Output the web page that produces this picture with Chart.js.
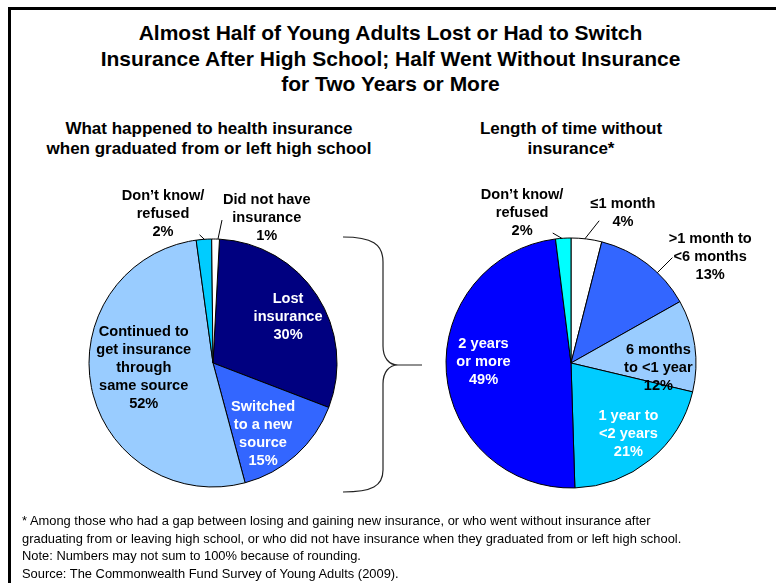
<!DOCTYPE html>
<html>
<head>
<meta charset="utf-8">
<script src="https://cdn.jsdelivr.net/npm/chart.js@4.4.1/dist/chart.umd.min.js"></script>
<style>
  body { margin: 0; background: #fff; font-family: "Liberation Sans", Arial, sans-serif; }
  #page { position: relative; width: 776px; height: 583px; overflow: hidden; }
  .frame { position: absolute; left: 8px; top: 7px; width: 780px; height: 600px;
           border-top: 3px solid #000; border-left: 3px solid #000; }
  .txt { position: absolute; text-align: center; color: #000; font-weight: bold; white-space: nowrap; }
  #title { left: 0; width: 781px; top: 20px; font-size: 21px; line-height: 25.5px; }
  #subLeft { left: 9px; width: 400px; top: 119px; font-size: 17px; line-height: 20px; }
  #subRight { left: 371px; width: 400px; top: 119px; font-size: 17px; line-height: 20px; }
  #notes { position: absolute; left: 22px; top: 512px; font-size: 12.9px; line-height: 17.5px; color: #000; white-space: nowrap; }
  canvas { position: absolute; }
  #leftPie { left: 20px; top: 180px; }
  #rightPie { left: 400px; top: 180px; }
  svg { position: absolute; left: 0; top: 0; }
</style>
</head>
<body>
<div id="page">
  <div class="frame"></div>
  <div id="title" class="txt">Almost Half of Young Adults Lost or Had to Switch<br>Insurance After High School; Half Went Without Insurance<br>for Two Years or More</div>
  <div id="subLeft" class="txt">What happened to health insurance<br>when graduated from or left high school</div>
  <div id="subRight" class="txt">Length of time without<br>insurance*</div>
  <canvas id="leftPie" width="360" height="320"></canvas>
  <canvas id="rightPie" width="376" height="320"></canvas>
  <svg width="776" height="583">
    <path d="M343,237 C372,237 383,244 383,262 L383,346 C383,358 389,365 398,365 L422,365 M398,365 C389,365 383,372 383,384 L383,470 C383,486 372,492 343,492"
          fill="none" stroke="#222" stroke-width="1.2"/>
  </svg>
  <div id="notes">* Among those who had a gap between losing and gaining new insurance, or who went without insurance after<br>graduating from or leaving high school, or who did not have insurance when they graduated from or left high school.<br>Note: Numbers may not sum to 100% because of rounding.<br>Source: The Commonwealth Fund Survey of Young Adults (2009).</div>
</div>
<script>
// left pie: what happened to insurance
const leftLabels = [['Lost', 'insurance'], ['Switched', 'to a new', 'source'], ['Continued to', 'get insurance', 'through', 'same source'], ['Don\u2019t know/', 'refused'], ['Did not have', 'insurance']];
const leftValues = [30, 15, 52, 2, 1];

// right pie: length of time without insurance
const rightLabels = [['\u22641 month'], ['>1 month to', '<6 months'], ['6 months', 'to <1 year'], ['1 year to', '<2 years'], ['2 years', 'or more'], ['Don\u2019t know/', 'refused']];
const rightValues = [4, 13, 12, 21, 49, 2];

const leftColors = ['#000080', '#3366FF', '#99CCFF', '#00CCFF', '#FFFFFF'];
const rightColors = ['#FFFFFF', '#3366FF', '#99CCFF', '#00CCFF', '#0000FF', '#00FFFF'];

// where each label sits: polar (radius as fraction of pie radius, angle in degrees from top)
// leader: [start angle on rim, end angle, end radius]
const leftPlace = [
  { r: 0.71, a: 58.5, color: '#fff' },
  { r: 0.70, a: 144.8, color: '#fff' },
  { r: 0.56, a: 265.9, color: '#000' },
  { r: 1.27, a: 341.5, color: '#000', leader: [356, 354, 1.04] },
  { r: 1.25, a: 20.3, color: '#000', leader: [2.3, 3.6, 1.155] }
];
const rightPlace = [
  { r: 1.27, a: 19.1, color: '#000', leader: [6.4, 11.2, 1.16] },
  { r: 1.40, a: 52.7, color: '#000', leader: [43.7, 43.9, 1.17] },
  { r: 0.70, a: 93, color: '#000' },
  { r: 0.73, a: 141, color: '#fff' },
  { r: 0.70, a: 271, color: '#fff' },
  { r: 1.26, a: 341.9, color: '#000', leader: [355.8, 352, 1.05] }
];

const sliceLabels = {
  id: 'sliceLabels',
  afterDraw(chart, args, opts) {
    const ctx = chart.ctx;
    const meta = chart.getDatasetMeta(0);
    const values = chart.data.datasets[0].data;
    const arc0 = meta.data[0];
    const cx = arc0.x, cy = arc0.y, R = arc0.outerRadius;
    const pt = (r, deg) => {
      const t = deg * Math.PI / 180;
      return [cx + r * R * Math.sin(t), cy - r * R * Math.cos(t)];
    };
    ctx.save();
    ctx.font = 'bold 14.6px "Liberation Sans", Arial, sans-serif';
    ctx.textAlign = 'center';
    ctx.textBaseline = 'middle';
    opts.place.forEach((p, i) => {
      if (p.leader) {
        const a = pt(1, p.leader[0]);
        const b = pt(p.leader[2], p.leader[1]);
        ctx.strokeStyle = '#000';
        ctx.lineWidth = 1;
        ctx.beginPath();
        ctx.moveTo(a[0], a[1]);
        ctx.lineTo(b[0], b[1]);
        ctx.stroke();
      }
      const lines = opts.labels[i].concat([values[i] + '%']);
      const [x, y] = pt(p.r, p.a);
      const lh = 18;
      const y0 = y - (lines.length - 1) * lh / 2;
      ctx.fillStyle = p.color;
      lines.forEach((s, k) => ctx.fillText(s, x, y0 + k * lh));
    });
    ctx.restore();
  }
};

function makePie(id, values, colors, labels, place, padding, rotation) {
  return new Chart(document.getElementById(id), {
    type: 'pie',
    data: {
      labels: labels.map(l => l.join(' ')),
      datasets: [{
        data: values,
        backgroundColor: colors,
        borderColor: '#000',
        borderWidth: 1,
        hoverOffset: 0
      }]
    },
    options: {
      responsive: false,
      animation: false,
      rotation: rotation,
      layout: { padding: padding },
      plugins: {
        legend: { display: false },
        tooltip: { enabled: false },
        sliceLabels: { labels: labels, place: place }
      }
    },
    plugins: [sliceLabels]
  });
}

makePie('leftPie', leftValues, leftColors, leftLabels, leftPlace, { left: 68.5, right: 42.5, top: 58.5, bottom: 12.5 }, 3);
makePie('rightPie', rightValues, rightColors, rightLabels, rightPlace, { left: 45.5, right: 79.5, top: 57.5, bottom: 11.5 }, 0);
</script>
</body>
</html>
